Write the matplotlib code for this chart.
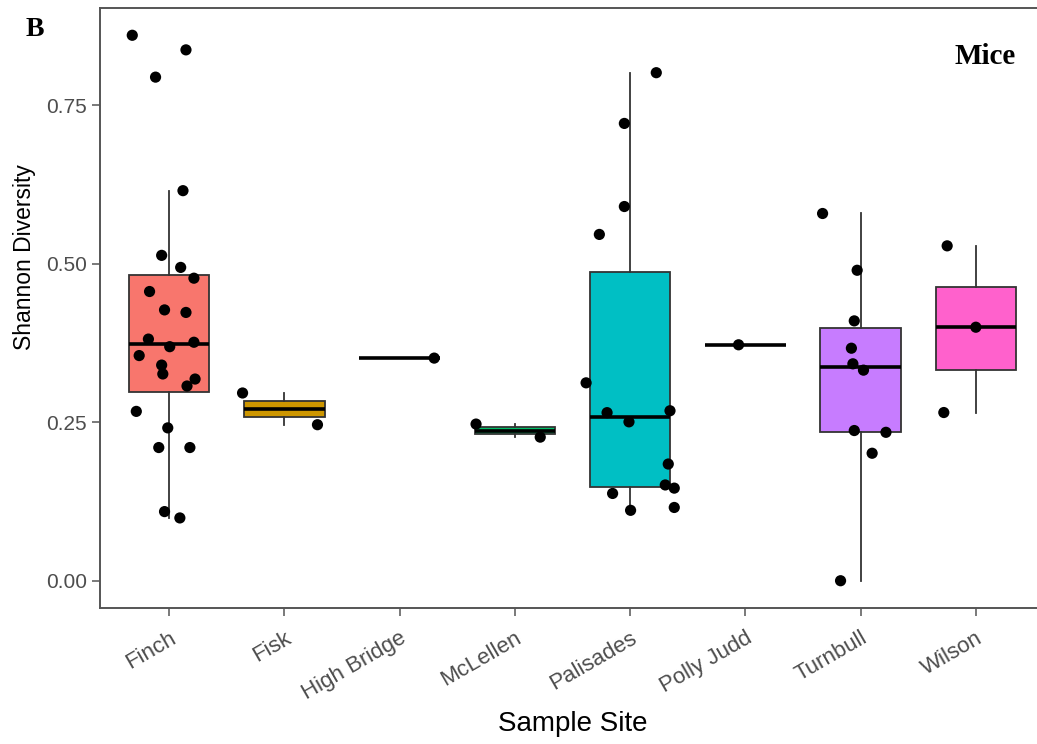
import numpy as np
import matplotlib
matplotlib.use("Agg")
import matplotlib.pyplot as plt

# --- data ---
sites = ["Finch", "Fisk", "High Bridge", "McLellen", "Palisades",
         "Polly Judd", "Turnbull", "Wilson"]
colors = ["#F8766D", "#CD9600", "#7CAE00", "#00BE67", "#00BFC4",
          "#00A9FF", "#C77CFF", "#FF61CC"]

finch = [0.860, 0.837, 0.794, 0.615, 0.513, 0.494, 0.477, 0.456, 0.427, 0.423,
         0.381, 0.376, 0.369, 0.355, 0.340, 0.326, 0.318, 0.307, 0.267, 0.241,
         0.210, 0.210, 0.109, 0.099]
finch_jit = [-0.32, 0.146, -0.118, 0.12, -0.065, 0.10, 0.215, -0.17, -0.04, 0.146,
             -0.18, 0.215, 0.005, -0.26, -0.065, -0.055, 0.225, 0.155, -0.285, -0.012,
             -0.09, 0.18, -0.04, 0.093]
fisk = [0.296, 0.246]
fisk_jit = [-0.363, 0.287]
high_bridge = [0.351]
high_bridge_jit = [0.30]
mclellen = [0.247, 0.2264]
mclellen_jit = [-0.337, 0.22]
palisades = [0.801, 0.721, 0.590, 0.546, 0.312, 0.265, 0.2505, 0.268, 0.184,
             0.151, 0.146, 0.1376, 0.111, 0.1155]
palisades_jit = [0.227, -0.05, -0.05, -0.267, -0.382, -0.2, -0.01, 0.346, 0.331,
                 0.305, 0.383, -0.152, 0.004, 0.383]
polly_judd = [0.372]
polly_judd_jit = [-0.059]
turnbull = [0.579, 0.4895, 0.4097, 0.3666, 0.342, 0.332, 0.2368, 0.234, 0.201, 0.0]
turnbull_jit = [-0.33, -0.03, -0.055, -0.08, -0.067, 0.025, -0.055, 0.22, 0.10, -0.174]
wilson = [0.528, 0.3997, 0.2652]
wilson_jit = [-0.249, 0.0, -0.278]

groups = [finch, fisk, high_bridge, mclellen, palisades, polly_judd, turnbull, wilson]
jitters = [finch_jit, fisk_jit, high_bridge_jit, mclellen_jit, palisades_jit,
           polly_judd_jit, turnbull_jit, wilson_jit]

plt.rcParams['font.family'] = ['Liberation Sans', 'DejaVu Sans']

fig = plt.figure(figsize=(10.37, 7.44), dpi=100)
# panel runs a little past the right edge, as in the cropped original
ax = fig.add_axes([100 / 1037, 136 / 744, 945 / 1037, 600 / 744])

pos = np.arange(1, len(sites) + 1)
bp = ax.boxplot(groups, positions=pos, widths=0.7, patch_artist=True,
                showcaps=False, showfliers=False, whis=1.5,
                boxprops=dict(edgecolor="#333333", linewidth=1.3),
                whiskerprops=dict(color="#333333", linewidth=1.3),
                medianprops=dict(color="black", linewidth=2.6))
for patch, c in zip(bp["boxes"], colors):
    patch.set_facecolor(c)

for i, (vals, jit) in enumerate(zip(groups, jitters)):
    ax.scatter(pos[i] + np.array(jit), vals, s=65, color="black", zorder=5,
               edgecolors="none")

ymin, ymax = 0.0, max(max(g) for g in groups)
pad = 0.05 * (ymax - ymin)
ax.set_ylim(ymin - pad, ymax + pad)
ax.set_xlim(0.4, len(sites) + 0.6)

ax.set_yticks([0, 0.25, 0.5, 0.75])
ax.set_yticklabels(["0.00", "0.25", "0.50", "0.75"])
ax.set_xticks(pos)
ax.set_xticklabels(sites, rotation=30, ha="right", rotation_mode="anchor")
ax.tick_params(axis="both", colors="#555555", labelcolor="#4D4D4D",
               length=6, width=1.1, labelsize=15)
ax.tick_params(axis="x", pad=8, labelsize=16)

for sp in ax.spines.values():
    sp.set_color("#555555")
    sp.set_linewidth(1.4)

ax.set_xlabel("Sample Site", fontsize=20, labelpad=5)
ax.set_ylabel("Shannon Diversity", fontsize=16.5)
ax.yaxis.set_label_coords(-0.068, 0.585)

fig.text(35 / 1037, 1 - 30 / 744, "B", fontsize=20, fontweight="bold",
         family="Liberation Serif", ha="center", va="center")
fig.text(985 / 1037, 1 - 57 / 744, "Mice", fontsize=21, fontweight="bold",
         family="Liberation Serif", ha="center", va="center")

fig.savefig("out.png", dpi=100)
